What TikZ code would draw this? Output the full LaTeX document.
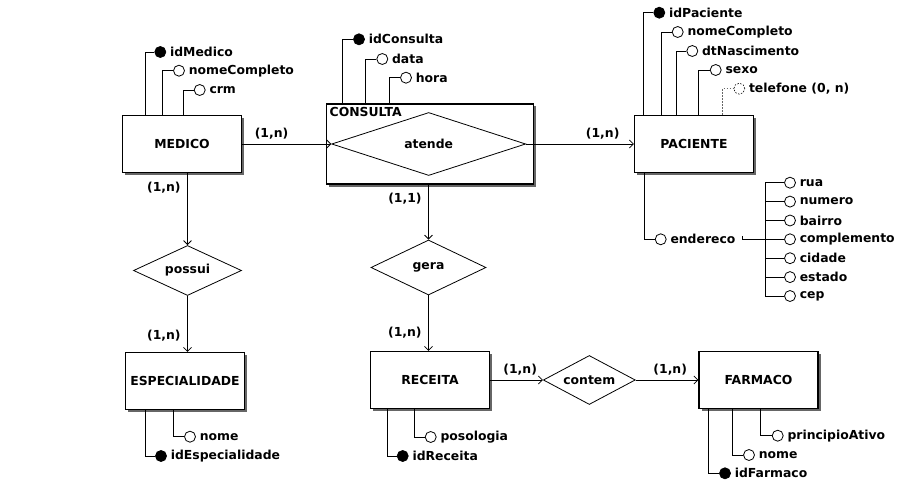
\documentclass[tikz,border=0pt]{standalone}
\usepackage{fontspec}
\setmainfont{DejaVu Sans}
\usetikzlibrary{shapes.geometric,shadows,arrows.meta}
\tikzset{
  /tikz/.cd,
  entidade/.style={draw,fill=white,line width=1.1pt,minimum width=119pt,minimum height=57pt,
    drop shadow={shadow xshift=2.5pt,shadow yshift=-2.5pt,fill=black!60,opacity=1}},
  relacao/.style={draw,diamond,aspect=2,fill=white,inner sep=0pt},
  atributo/.style={circle,draw,fill=white,minimum size=11pt,inner sep=0pt,
    label={[inner sep=1pt,label distance=2.5pt]right:#1}},
  chave/.style={atributo=#1,fill=black}
}

\begin{document}
\begin{tikzpicture}[x=1pt,y=-1pt,line width=0.8pt,font=\bfseries\fontsize{12.4}{14}\selectfont,
                    seta/.style={-{Straight Barb[length=4pt,width=8pt]}},
                    card/.style={inner sep=1pt},
                    tracejado/.style={draw=black!60,line width=0.6pt,dash pattern=on 1.5pt off 1.5pt}]
  \useasboundingbox (0,0) rectangle (905,484);

  \node[entidade] (medico) at (182,144) {MEDICO};
  \node[entidade,minimum width=207pt,minimum height=80pt] (consulta) at (429.8,144) {};
  \node[anchor=north west,inner sep=3.5pt] (consultaRotulo) at (consulta.north west) {CONSULTA};
  \node[relacao,minimum width=194pt,minimum height=63pt] (atende) at (428.7,144) {atende};
  \node[entidade] (paciente) at (694,144) {PACIENTE};
  \node[relacao,minimum width=108pt,minimum height=50pt] (possui) at (187.5,270.5) {possui};
  \node[entidade] (especialidade) at (185,381) {ESPECIALIDADE};
  \node[relacao,minimum width=115pt,minimum height=55pt] (gera) at (428.5,267.5) {gera};
  \node[entidade] (receita) at (430,380) {RECEITA};
  \node[relacao,minimum width=92pt,minimum height=49pt] (contem) at (589.3,380) {contem};
  \node[entidade] (farmaco) at (758.5,380) {FARMACO};

  \draw[seta] (medico) -- node[card,above=3.5pt,pos=0.33]{(1,n)} (atende.west);
  \draw[seta] (atende.east) -- node[card,above=3.5pt,pos=0.71]{(1,n)} (paciente);
  \draw[seta] (possui.north |- medico.south) -- node[card,left=5.5pt,pos=0.2]{(1,n)} (possui.north);
  \draw[seta] (possui.south) -- node[card,left=5.5pt,pos=0.71]{(1,n)} (possui.south |- especialidade.north);
  \draw[seta] (gera.north |- consulta.south) -- node[card,left=5.5pt,pos=0.26]{(1,1)} (gera.north);
  \draw[seta] (gera.south) -- node[card,left=5.5pt,pos=0.67]{(1,n)} (gera.south |- receita.north);
  \draw[seta] (receita) -- node[card,above=3.5pt,pos=0.57]{(1,n)} (contem.west);
  \draw[seta] (contem.east) -- node[card,above=3.5pt,pos=0.55]{(1,n)} (farmaco);

  \node[chave=idMedico] (idMedico) at (160.3,52) {};
  \node[atributo=nomeCompleto] (nomeMedico) at (179,70.7) {};
  \node[atributo=crm] (crm) at (199.7,90) {};
  \draw ([xshift=23pt]medico.north west) |- (idMedico);
  \draw ([xshift=40.6pt]medico.north west) |- (nomeMedico);
  \draw ([xshift=61.3pt]medico.north west) |- (crm);

  \node[chave=idConsulta] (idConsulta) at (359,39.3) {};
  \node[atributo=data] (data) at (382.3,59) {};
  \node[atributo=hora] (hora) at (406,77.7) {};
  \draw ([xshift=16.4pt]consulta.north west) |- (idConsulta);
  \draw ([xshift=40pt]consulta.north west) |- (data);
  \draw ([xshift=64pt]consulta.north west) |- (hora);

  \node[chave=idPaciente] (idPaciente) at (659.3,12.7) {};
  \node[atributo=nomeCompleto] (nomePaciente) at (677.7,32) {};
  \node[atributo=dtNascimento] (dtNascimento) at (692.3,51) {};
  \node[atributo=sexo] (sexo) at (715.7,70) {};
  \node[atributo={telefone (0, n)},dash pattern=on 1.5pt off 1.5pt,line width=0.6pt] (telefone) at (739.3,88.7) {};
  \draw ([xshift=9.2pt]paciente.north west) |- (idPaciente);
  \draw ([xshift=27.2pt]paciente.north west) |- (nomePaciente);
  \draw ([xshift=42.2pt]paciente.north west) |- (dtNascimento);
  \draw ([xshift=64.8pt]paciente.north west) |- (sexo);
  \draw[tracejado] ([xshift=88.8pt]paciente.north west) |- (telefone);

  \node[atributo=endereco] (endereco) at (660.7,239.3) {};
  \draw ([xshift=10.5pt]paciente.south west) |- (endereco);
  \coordinate (enderecoFim) at (742,239.3);
  \coordinate (barramento) at (765,239.3);
  \draw ([yshift=3pt]enderecoFim) -- (enderecoFim) -- (barramento);
  \node[atributo=rua] (rua) at (790,182.7) {};
  \node[atributo=numero] (numero) at (790,201.6) {};
  \node[atributo=bairro] (bairro) at (790,220.5) {};
  \node[atributo=complemento] (complemento) at (790,239.3) {};
  \node[atributo=cidade] (cidade) at (790,258.2) {};
  \node[atributo=estado] (estado) at (790,277.1) {};
  \node[atributo=cep] (cep) at (790,296) {};
  \draw (barramento) |- (rua);
  \draw (barramento) |- (numero);
  \draw (barramento) |- (bairro);
  \draw (barramento) -- (complemento);
  \draw (barramento) |- (cidade);
  \draw (barramento) |- (estado);
  \draw (barramento) |- (cep);

  \node[chave=idEspecialidade] (idEspecialidade) at (161,456) {};
  \node[atributo=nome] (nomeEspecialidade) at (190,436.7) {};
  \draw ([xshift=20pt]especialidade.south west) |- (idEspecialidade);
  \draw ([xshift=48.3pt]especialidade.south west) |- (nomeEspecialidade);

  \node[chave=idReceita] (idReceita) at (402.7,456) {};
  \node[atributo=posologia] (posologia) at (430.7,437) {};
  \draw ([xshift=17.4pt]receita.south west) |- (idReceita);
  \draw ([xshift=44pt]receita.south west) |- (posologia);

  \node[chave=idFarmaco] (idFarmaco) at (725,473.3) {};
  \node[atributo=nome] (nomeFarmaco) at (749,455) {};
  \node[atributo=principioAtivo] (principioAtivo) at (777.7,435.7) {};
  \draw ([xshift=10pt]farmaco.south west) |- (idFarmaco);
  \draw ([xshift=34pt]farmaco.south west) |- (nomeFarmaco);
  \draw ([xshift=62.4pt]farmaco.south west) |- (principioAtivo);
\end{tikzpicture}
\end{document}
